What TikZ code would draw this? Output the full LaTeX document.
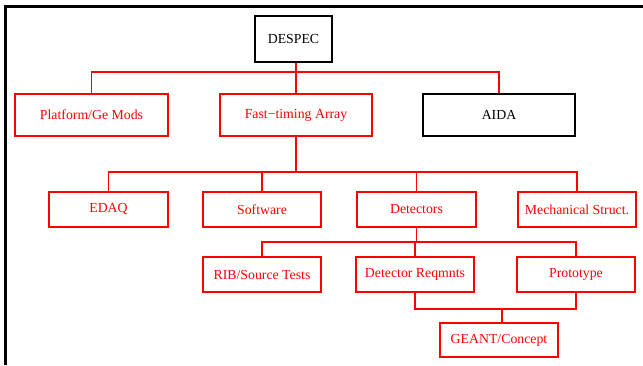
\documentclass[tikz,border=0pt]{standalone}
\usepackage{fontspec}
\setmainfont{Liberation Serif}
\usepackage{tikz}
\usetikzlibrary{calc}
\newcommand{\BoxFont}{\fontsize{13.8}{16}\selectfont}
\tikzset{redbox/.style={draw=red,text=red,line width=1.2pt,inner sep=0pt,font=\BoxFont}}
\tikzset{blackbox/.style={draw=black,line width=1.2pt,inner sep=0pt,font=\BoxFont}}
\tikzset{link/.style={red,line width=1.2pt}}

\begin{document}
\begin{tikzpicture}[x=1pt,y=-1pt]
\useasboundingbox(0,0)rectangle(643,365);
\draw[line width=3pt](5,365)--(5,6)--(643,6);
\node[blackbox,minimum width=77,minimum height=46](despec)at(293.5,39){DESPEC};
\node[redbox,minimum width=153,minimum height=42](platform)at(91.5,115){Platform/Ge Mods};
\node[redbox,minimum width=152,minimum height=42](fasttiming)at(296,115){Fast−timing Array};
\node[blackbox,minimum width=152,minimum height=42](aida)at(499,115){AIDA};
\node[redbox,minimum width=119,minimum height=35](edaq)at(108.5,209.5){EDAQ};
\node[redbox,minimum width=118,minimum height=35](software)at(262,209.5){Software};
\node[redbox,minimum width=119,minimum height=35](detectors)at(416.5,209.5){Detectors};
\node[redbox,minimum width=118,minimum height=35](mechstruct)at(577,209.5){Mechanical Struct.};
\node[redbox,minimum width=118,minimum height=35](ribtests)at(262,274.5){RIB/Source Tests};
\node[redbox,minimum width=118,minimum height=35](detreq)at(415,274.5){Detector Reqmnts};
\node[redbox,minimum width=118,minimum height=35](prototype)at(576,274.5){Prototype};
\node[redbox,minimum width=118,minimum height=34](geant)at(499,340){GEANT/Concept};
\coordinate(busA)at(0,72);\coordinate(busB)at(0,172);\coordinate(busC)at(0,242);\coordinate(busD)at(0,309);
\draw[link](platform.north)|-(busA-|aida)--(aida.north);\draw[link](despec.south-|fasttiming)--(fasttiming.north);
\draw[link](edaq.north)|-(busB-|mechstruct)--(mechstruct.north);\draw[link](fasttiming.south)--(fasttiming|-busB);
\draw[link](software.north)--(software|-busB);\draw[link](detectors.north)--(detectors|-busB);
\draw[link](ribtests.north)|-(busC-|prototype)--(prototype.north);\draw[link](detectors.south)--(detectors|-busC);
\draw[link](detreq.north)--(detreq|-busC);
\draw[link](detreq.south)|-(busD-|prototype)--(prototype.south);\draw[link]($(geant.north)+(3,0)$)--($(geant|-busD)+(3,0)$);
\end{tikzpicture}
\end{document}
